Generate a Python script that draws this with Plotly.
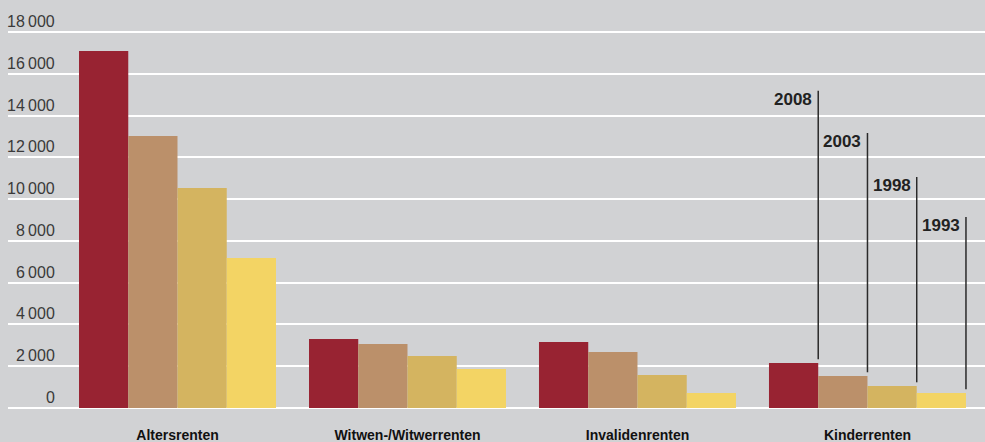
import plotly.graph_objects as go

categories = ["Altersrenten", "Witwen-/Witwerrenten", "Invalidenrenten", "Kinderrenten"]
years = ["2008", "2003", "1998", "1993"]
values_2008 = [17090, 3300, 3160, 2150]
values_2003 = [13020, 3060, 2680, 1530]
values_1998 = [10530, 2490, 1580, 1050]
values_1993 = [7180, 1870, 720, 720]
series = [values_2008, values_2003, values_1998, values_1993]
colors = ["#982332", "#BB906A", "#D4B460", "#F3D464"]

tick_vals = [0, 2000, 4000, 6000, 8000, 10000, 12000, 14000, 16000, 18000]
tick_text = ["0", "2\u2009000", "4\u2009000", "6\u2009000", "8\u2009000", "10\u2009000",
             "12\u2009000", "14\u2009000", "16\u2009000", "18\u2009000"]

# label/leader-line tops (data units) for the year callouts on the last group
label_tops = [15190, 13165, 11060, 9140]

BG = "#D1D2D4"
bargap = 0.1435

fig = go.Figure()
for yr, vals, col in zip(years, series, colors):
    fig.add_trace(go.Bar(x=categories, y=vals, name=yr, marker=dict(color=col, line=dict(width=0))))

# callouts on Kinderrenten group
gw = 1 - bargap
bw = gw / 4
last = len(categories) - 1
for k, (yr, vals, top) in enumerate(zip(years, series, label_tops)):
    xr = last - gw / 2 + (k + 1) * bw
    fig.add_shape(type="line", xref="x", yref="y", x0=xr, x1=xr, y0=vals[last] + 180, y1=top,
                  line=dict(color="#2a2a2a", width=1.5))
    fig.add_annotation(xref="x", yref="y", x=xr, y=top, text="<b>%s</b>" % yr, showarrow=False,
                       xanchor="right", yanchor="top", xshift=-4, yshift=3,
                       font=dict(family="Liberation Sans, Arial", size=17, color="#222222"))

for v, t in zip(tick_vals, tick_text):
    fig.add_annotation(xref="paper", yref="y", x=(57 - 8) / 977, y=v, text=t, showarrow=False,
                       xanchor="right", yanchor="bottom", yshift=0,
                       font=dict(family="Liberation Sans, Arial", size=16, color="#3a3a3a"))

fig.update_layout(
    width=985, height=442,
    margin=dict(l=8, r=0, t=10, b=34),
    paper_bgcolor=BG, plot_bgcolor=BG,
    barmode="group", bargap=bargap, bargroupgap=0,
    showlegend=False,
    xaxis=dict(range=[-0.737, 3.511], showgrid=False, showline=False, ticks="",
               tickfont=dict(family="Liberation Sans Narrow, Arial Narrow, Liberation Sans", size=14, color="#111111"),
               ticklabelstandoff=17),
    yaxis=dict(range=[0, 19053], tickvals=tick_vals, showticklabels=False,
               showgrid=True, gridcolor="white", gridwidth=2,
               zeroline=True, zerolinecolor="white", zerolinewidth=2, showline=False),
)
fig.update_xaxes(tickprefix="<b>", ticksuffix="</b>")

fig.write_html("out.html", config={"displayModeBar": False},
               post_script="document.body.style.margin='0';document.body.style.background='%s';" % BG)
